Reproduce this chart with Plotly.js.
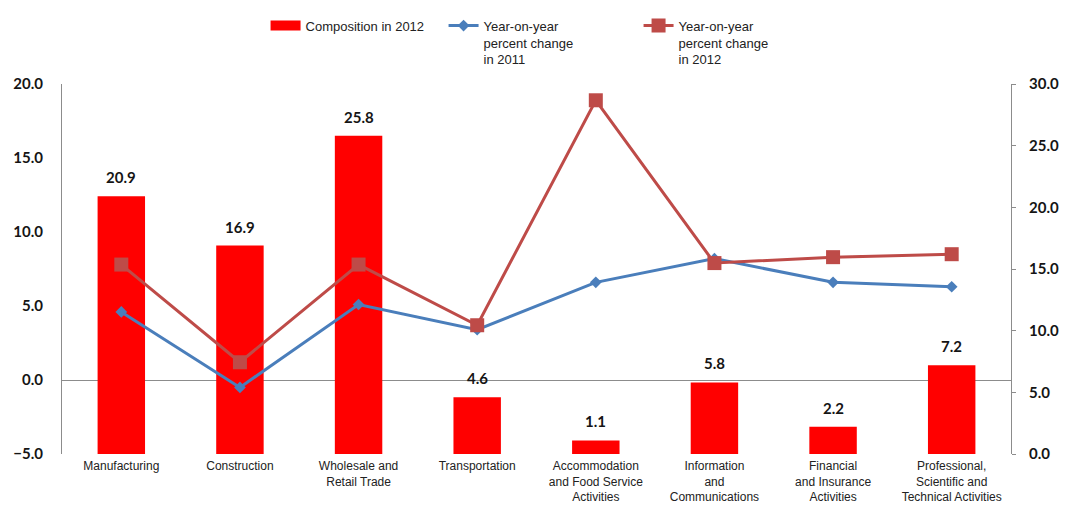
<!DOCTYPE html>
<html>
<head>
<meta charset="utf-8">
<script src="https://cdn.plot.ly/plotly-3.0.1.min.js"></script>
<style>
  html, body { margin: 0; padding: 0; background: #ffffff; }
  #chart { width: 1065px; height: 505px; }
</style>
</head>
<body>
<div id="chart"></div>
<script>
// Industries (category axis)
const industries = [
  "Manufacturing",
  "Construction",
  "Wholesale and<br>Retail Trade",
  "Transportation",
  "Accommodation<br>and Food Service<br>Activities",
  "Information<br>and<br>Communications",
  "Financial<br>and Insurance<br>Activities",
  "Professional,<br>Scientific and<br>Technical Activities"
];

// Share of each industry in 2012 (right axis, %)
const composition2012 = [20.9, 16.9, 25.8, 4.6, 1.1, 5.8, 2.2, 7.2];

// Year-on-year percent change (left axis, %)
const yoyChange2011 = [4.6, -0.5, 5.1, 3.4, 6.6, 8.2, 6.6, 6.3];
const yoyChange2012 = [7.8, 1.2, 7.8, 3.7, 18.9, 7.9, 8.3, 8.5];

// Axis tick values
const leftTicks = [-5, 0, 5, 10, 15, 20];
const rightTicks = [0, 5, 10, 15, 20, 25, 30];

const seriesNames = [
  "Composition in 2012",
  "Year-on-year<br>percent change<br>in 2011",
  "Year-on-year<br>percent change<br>in 2012"
];

const BAR_RED = "#FF0000";
const LINE_BLUE = "#4A7EBB";
const LINE_RED = "#BE4B48";
const AXIS_GREY = "#8c8c8c";

const numberFont = { family: "Lato, 'DejaVu Sans', sans-serif", size: 15, weight: "bold", color: "#151515" };
const textFont = { family: "'Liberation Sans', Arial, sans-serif", size: 13, color: "#222222" };

const traces = [
  {
    type: "bar",
    name: seriesNames[0],
    x: industries,
    y: composition2012,
    yaxis: "y",
    marker: { color: BAR_RED },
    showlegend: false,
    hoverinfo: "x+y"
  },
  {
    // legend entry for the bars, drawn as a wide block
    type: "scatter",
    mode: "lines",
    name: seriesNames[0],
    x: [null],
    y: [null],
    yaxis: "y",
    line: { color: BAR_RED, width: 12 },
    legendwidth: 133,
    hoverinfo: "skip"
  },
  {
    type: "scatter",
    mode: "lines+markers",
    name: seriesNames[1],
    x: industries,
    y: yoyChange2011,
    yaxis: "y2",
    line: { color: LINE_BLUE, width: 3 },
    marker: { symbol: "diamond", size: 9, color: LINE_BLUE },
    legendwidth: 150
  },
  {
    type: "scatter",
    mode: "lines+markers",
    name: seriesNames[2],
    x: industries,
    y: yoyChange2012,
    yaxis: "y2",
    line: { color: LINE_RED, width: 3 },
    marker: { symbol: "square", size: 14, color: LINE_RED },
    legendwidth: 150
  }
];

// Value labels above each bar
const barLabels = composition2012.map((v, i) => ({
  x: industries[i],
  y: v,
  xref: "x",
  yref: "y",
  text: v.toFixed(1),
  showarrow: false,
  yanchor: "middle",
  yshift: 19,
  font: numberFont
}));

const layout = {
  width: 1065,
  height: 505,
  margin: { l: 62, r: 54, t: 83, b: 51 },
  paper_bgcolor: "#ffffff",
  plot_bgcolor: "#ffffff",
  bargap: 0.6,
  showlegend: true,
  legend: {
    orientation: "h",
    x: 0.2145,
    xanchor: "left",
    y: 1.195,
    yanchor: "top",
    valign: "top",
    font: textFont,
    bgcolor: "rgba(0,0,0,0)",
    traceorder: "normal"
  },
  xaxis: {
    type: "category",
    showline: false,
    showgrid: false,
    zeroline: false,
    ticks: "",
    tickfont: { family: "'Liberation Sans', Arial, sans-serif", size: 12, color: "#222222" },
    ticklabelstandoff: 3,
    fixedrange: true
  },
  yaxis: {
    side: "right",
    range: [0, 30],
    tickvals: rightTicks,
    tickformat: ".1f",
    showline: true,
    linecolor: AXIS_GREY,
    linewidth: 1,
    ticks: "outside",
    ticklen: 4,
    tickcolor: AXIS_GREY,
    showgrid: false,
    zeroline: false,
    tickfont: numberFont,
    ticklabelstandoff: 10,
    fixedrange: true
  },
  yaxis2: {
    overlaying: "y",
    side: "left",
    range: [-5, 20],
    tickvals: leftTicks,
    tickformat: ".1f",
    showline: true,
    linecolor: AXIS_GREY,
    linewidth: 1,
    ticks: "",
    showgrid: false,
    zeroline: true,
    zerolinecolor: AXIS_GREY,
    zerolinewidth: 1,
    tickfont: numberFont,
    ticklabelstandoff: 15,
    fixedrange: true
  },
  annotations: barLabels
};

Plotly.newPlot("chart", traces, layout, { displayModeBar: false, staticPlot: true });
</script>
</body>
</html>
